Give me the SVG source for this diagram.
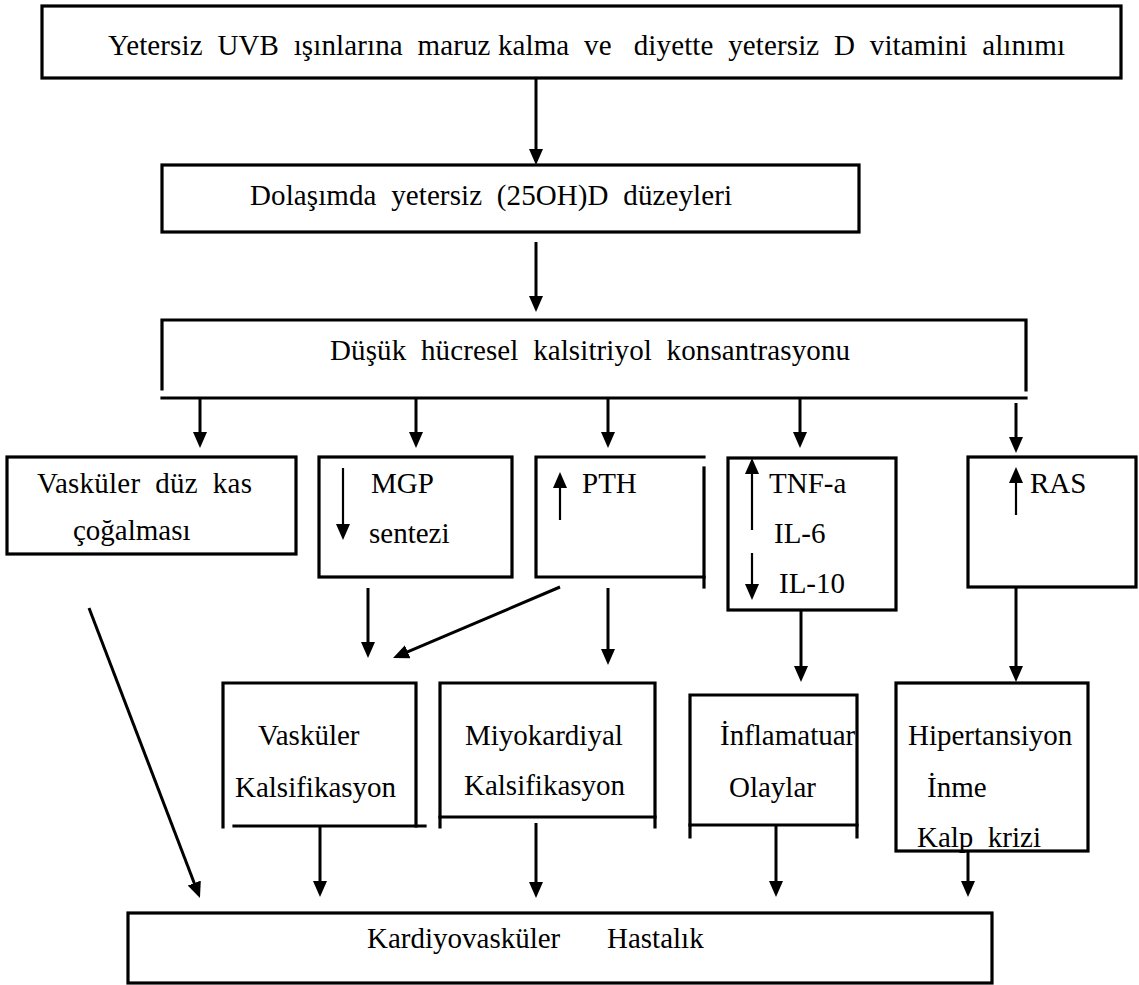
<svg xmlns="http://www.w3.org/2000/svg" width="1139" height="985" viewBox="0 0 1139 985">
<style>
.b{fill:none;stroke:#000;stroke-width:3.2;stroke-linecap:square}
.t{font-family:"Liberation Serif","Times New Roman",serif;font-size:29px;fill:#000}
.c{stroke:#000;stroke-width:3;fill:none;marker-end:url(#ah)}
.ci{stroke:#000;stroke-width:2.2;fill:none;marker-end:url(#ah)}
</style>
<defs>
<marker id="ah" markerUnits="userSpaceOnUse" markerWidth="18" markerHeight="16" refX="6" refY="7" orient="auto"><path d="M0,0 L16,7 L0,14 z" fill="#000"/></marker>
</defs>
<rect width="1139" height="985" fill="#fff"/>
<g id="n1"><rect class="b" x="42" y="6" width="1079" height="72"/><text class="t" x="108" y="55" xml:space="preserve" textLength="957">Yetersiz  UVB  ışınlarına  maruz kalma  ve   diyette  yetersiz  D  vitamini  alınımı</text></g>
<g id="n2"><rect class="b" x="162" y="165" width="697" height="67"/><text class="t" x="250" y="205" xml:space="preserve" textLength="482">Dolaşımda  yetersiz  (25OH)D  düzeyleri</text></g>
<g id="n3"><path class="b" d="M162,389 V320 H1026 V390"/><path class="b" d="M162,398 H1026"/><text class="t" x="330" y="360" xml:space="preserve" textLength="520">Düşük  hücresel  kalsitriyol  konsantrasyonu</text></g>
<g id="n4"><rect class="b" x="7" y="457" width="289" height="97"/><text class="t" x="37" y="493" xml:space="preserve" textLength="215">Vasküler  düz  kas</text><text class="t" x="73" y="540">çoğalması</text></g>
<g id="n5"><rect class="b" x="319" y="457" width="193" height="120"/><line class="ci" x1="343" y1="468" x2="343" y2="530"/><text class="t" x="371" y="493">MGP</text><text class="t" x="369" y="543">sentezi</text></g>
<g id="n6"><path class="b" d="M704,457 H536 V577 H704"/><path class="b" d="M704,468 V587"/><line class="ci" x1="560" y1="520" x2="560" y2="482"/><text class="t" x="582" y="493">PTH</text></g>
<g id="n7"><rect class="b" x="728" y="458" width="168" height="152"/><line class="ci" x1="752" y1="530" x2="752" y2="468"/><line class="ci" x1="752" y1="553" x2="752" y2="590"/><text class="t" x="769" y="493">TNF-a</text><text class="t" x="774" y="543">IL-6</text><text class="t" x="779" y="593">IL-10</text></g>
<g id="n8"><rect class="b" x="968" y="457" width="168" height="130"/><line class="ci" x1="1016" y1="515" x2="1016" y2="477"/><text class="t" x="1030" y="493">RAS</text></g>
<g id="n9"><path class="b" d="M223,827 V683 H416 V826"/><path class="b" d="M234,826 H425"/><text class="t" x="258" y="745">Vasküler</text><text class="t" x="235" y="797">Kalsifikasyon</text></g>
<g id="n10"><path class="b" d="M440,827 V683 H655 V827"/><path class="b" d="M440,817 H655"/><text class="t" x="465" y="745">Miyokardiyal</text><text class="t" x="464" y="795">Kalsifikasyon</text></g>
<g id="n11"><path class="b" d="M690,837 V695 H857 V837"/><path class="b" d="M690,825 H857"/><text class="t" x="720" y="745">İnflamatuar</text><text class="t" x="729" y="797">Olaylar</text></g>
<g id="n12"><rect class="b" x="896" y="683" width="192" height="168"/><text class="t" x="908" y="745">Hipertansiyon</text><text class="t" x="927" y="797">İnme</text><text class="t" x="917" y="847" xml:space="preserve">Kalp  krizi</text></g>
<g id="n13"><rect class="b" x="128" y="913" width="864" height="70"/><text class="t" x="367" y="948">Kardiyovasküler<tspan x="607">Hastalık</tspan></text></g>
<g id="connectors">
<line class="c" x1="536" y1="78" x2="536" y2="155"/>
<line class="c" x1="536" y1="242" x2="536" y2="302"/>
<line class="c" x1="200" y1="398" x2="200" y2="438"/>
<line class="c" x1="416" y1="398" x2="416" y2="438"/>
<line class="c" x1="608" y1="398" x2="608" y2="438"/>
<line class="c" x1="800" y1="398" x2="800" y2="438"/>
<line class="c" x1="1016" y1="403" x2="1016" y2="443"/>
<line class="c" x1="368" y1="588" x2="368" y2="648"/>
<line class="c" x1="560" y1="587" x2="402.2" y2="654.1"/>
<line class="c" x1="608" y1="588" x2="608" y2="655"/>
<line class="c" x1="801" y1="610" x2="801" y2="672"/>
<line class="c" x1="1016" y1="587" x2="1016" y2="672"/>
<line class="c" x1="89" y1="608" x2="196.4" y2="888.7"/>
<line class="c" x1="320" y1="826" x2="320" y2="887"/>
<line class="c" x1="536" y1="823" x2="536" y2="888"/>
<line class="c" x1="776" y1="825" x2="776" y2="887"/>
<line class="c" x1="968" y1="851" x2="968" y2="887"/>
</g>
</svg>
